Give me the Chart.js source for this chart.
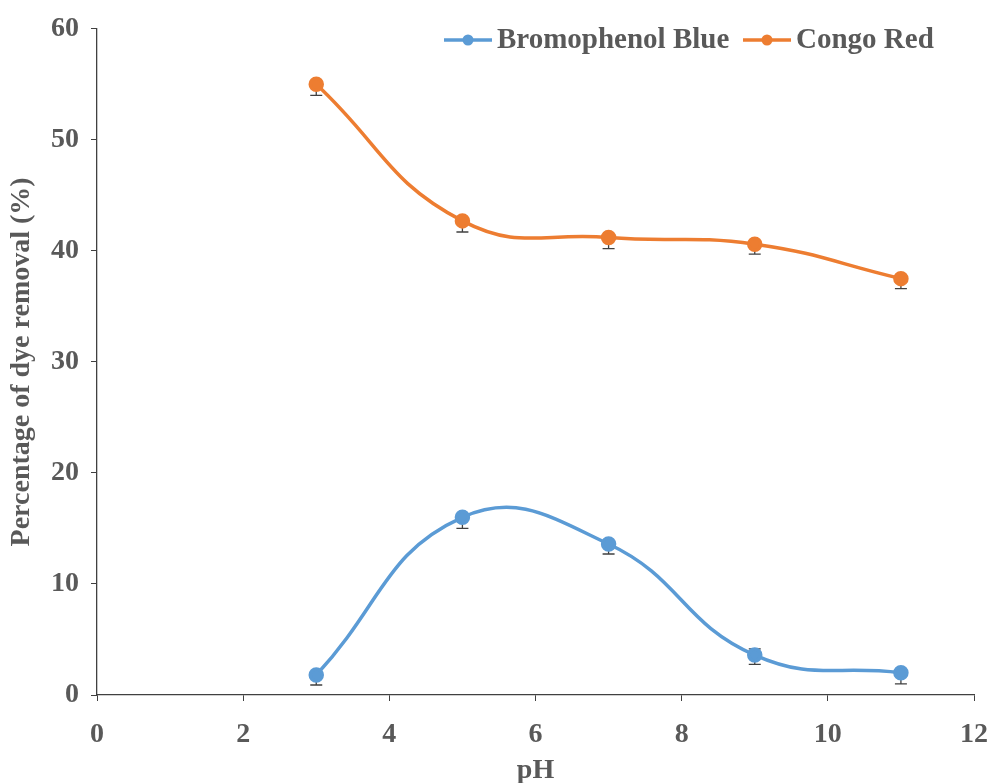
<!DOCTYPE html>
<html>
<head>
<meta charset="utf-8">
<script src="https://cdn.jsdelivr.net/npm/chart.js@4"></script>
<style>
  html, body { margin: 0; padding: 0; background: #fff; }
  #wrap { width: 989px; height: 783px; position: relative; }
</style>
</head>
<body>
<div id="wrap"><canvas id="chart"></canvas></div>
<script>
const phValues = [3, 5, 7, 9, 11];
const bpbValues = [1.8, 16.0, 13.6, 3.6, 2.0];
const crValues = [55.0, 42.7, 41.2, 40.6, 37.5];
// error bars: upper and lower extent
const bpbErrUp = [0, 0, 0, 0.55, 0];
const bpbErrDown = [0.9, 1.0, 0.9, 0.85, 1.0];
const crErrUp = [0, 0, 0, 0, 0];
const crErrDown = [1.0, 1.0, 1.0, 0.9, 0.9];
const seriesNames = ['Bromophenol Blue', 'Congo Red'];

const BLUE = '#5B9BD5';
const ORANGE = '#ED7D31';
const TEXT = '#595959';
const AXIS = '#404040';
const FONT = "'Liberation Serif', 'Times New Roman', serif";
const FSIZE = 28;

const toPoints = (ys) => phValues.map((x, i) => ({ x: x, y: ys[i] }));

// error bars drawn under the markers
const errorBars = {
  id: 'errorBars',
  beforeDatasetsDraw(chart) {
    const ctx = chart.ctx;
    const xs = chart.scales.x, ys = chart.scales.y;
    const ups = [bpbErrUp, crErrUp];
    const downs = [bpbErrDown, crErrDown];
    ctx.save();
    ctx.strokeStyle = AXIS;
    ctx.lineWidth = 1.3;
    chart.data.datasets.forEach((ds, d) => {
      ds.data.forEach((p, i) => {
        const px = xs.getPixelForValue(p.x);
        const top = ys.getPixelForValue(p.y + ups[d][i]);
        const bot = ys.getPixelForValue(p.y - downs[d][i]);
        ctx.beginPath();
        ctx.moveTo(px, top); ctx.lineTo(px, bot);
        if (ups[d][i] > 0) { ctx.moveTo(px - 6, top); ctx.lineTo(px + 6, top); }
        ctx.moveTo(px - 6, bot); ctx.lineTo(px + 6, bot);
        ctx.stroke();
      });
    });
    ctx.restore();
  }
};

// legend drawn inside the plot, top right
const innerLegend = {
  id: 'innerLegend',
  afterDraw(chart) {
    const ctx = chart.ctx;
    const items = [
      { name: seriesNames[0], color: BLUE, x: 444 },
      { name: seriesNames[1], color: ORANGE, x: 743 }
    ];
    const y = 40;
    ctx.save();
    ctx.font = "bold 29px " + FONT;
    ctx.textBaseline = 'middle';
    items.forEach(it => {
      ctx.strokeStyle = it.color;
      ctx.lineWidth = 3.5;
      ctx.beginPath();
      ctx.moveTo(it.x, y); ctx.lineTo(it.x + 48, y);
      ctx.stroke();
      ctx.fillStyle = it.color;
      ctx.beginPath();
      ctx.arc(it.x + 24, y, 5.5, 0, Math.PI * 2);
      ctx.fill();
      ctx.fillStyle = TEXT;
      ctx.fillText(it.name, it.x + 53, y + 1);
    });
    ctx.restore();
  }
};

const tickFont = { family: FONT, size: FSIZE, weight: 'bold' };
const titleFont = { family: FONT, size: FSIZE, weight: 'bold', lineHeight: 0.9 };

new Chart(document.getElementById('chart'), {
  type: 'line',
  data: {
    datasets: [
      {
        label: seriesNames[0],
        data: toPoints(bpbValues),
        borderColor: BLUE,
        backgroundColor: BLUE,
        borderWidth: 3.5,
        pointRadius: 6,
        tension: 0.45
      },
      {
        label: seriesNames[1],
        data: toPoints(crValues),
        borderColor: ORANGE,
        backgroundColor: ORANGE,
        borderWidth: 3.5,
        pointRadius: 6,
        tension: 0.45
      }
    ]
  },
  options: {
    responsive: true,
    maintainAspectRatio: false,
    animation: false,
    layout: { padding: { left: 0, top: 27, right: 0, bottom: 0 } },
    plugins: {
      legend: { display: false },
      tooltip: { enabled: false }
    },
    scales: {
      x: {
        type: 'linear',
        min: 0, max: 12,
        ticks: { stepSize: 2, color: TEXT, font: tickFont, padding: 17 },
        grid: { drawOnChartArea: false, drawTicks: true, tickLength: 6, color: AXIS },
        border: { color: AXIS, width: 1.3 },
        title: { display: true, text: 'pH', color: TEXT, font: titleFont, padding: { top: 0, bottom: 0 } },
        afterFit(scale) { scale.height = 88; scale.paddingRight = 15; }
      },
      y: {
        min: 0, max: 60,
        ticks: { stepSize: 10, color: TEXT, font: tickFont, padding: 12 },
        grid: { drawOnChartArea: false, drawTicks: true, tickLength: 6, color: AXIS },
        border: { color: AXIS, width: 1.3 },
        title: { display: true, text: 'Percentage of dye removal (%)', color: TEXT, font: titleFont, padding: { top: 9, bottom: 0 } },
        afterFit(scale) { scale.width = 97; }
      }
    }
  },
  plugins: [errorBars, innerLegend]
});
</script>
</body>
</html>
